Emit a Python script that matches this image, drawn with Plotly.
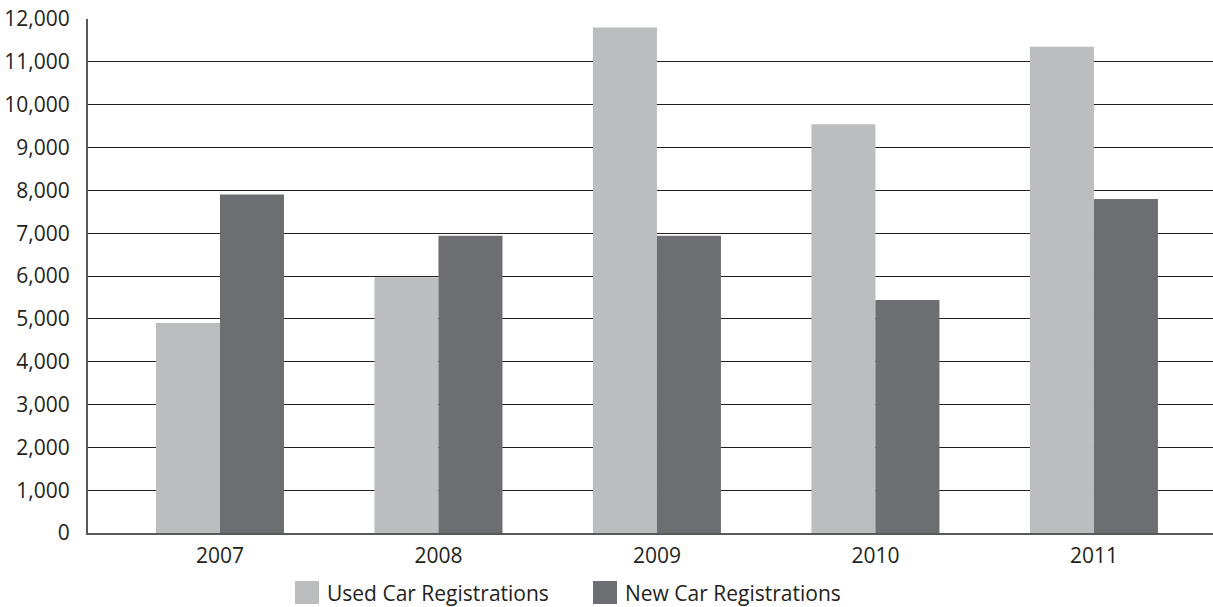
import plotly.graph_objects as go

years = ["2007", "2008", "2009", "2010", "2011"]
used = [4900, 5970, 11800, 9540, 11350]
new = [7900, 6940, 6940, 5440, 7800]
y_ticks = list(range(0, 12001, 1000))
y_labels = [f"{v:,}" for v in y_ticks]
series_names = ["Used Car Registrations", "New Car Registrations"]
colors = ["#bcbdbf", "#6d6e71"]

xpos = list(range(len(years)))
FONT = "Open Sans"
TXT = "#231f20"
FS = 21

fig = go.Figure()
fig.add_trace(go.Bar(x=xpos, y=used, name=series_names[0], marker_color=colors[0],
                     marker_line_width=0, showlegend=False))
fig.add_trace(go.Bar(x=xpos, y=new, name=series_names[1], marker_color=colors[1],
                     marker_line_width=0, showlegend=False))

# manual legend (paper coords)
W, H = 1213, 607
ml, mr, mt, mb = 88, 0, 19, 74
pw, ph = W - ml - mr, H - mt - mb
def px(x): return (x - ml) / pw
def py(y): return (H - mb - y) / ph

legend_items = [(295, series_names[0], colors[0]), (593, series_names[1], colors[1])]
shapes = []
annotations = []
for x0, name, c in legend_items:
    shapes.append(dict(type="rect", xref="paper", yref="paper",
                       x0=px(x0), x1=px(x0 + 24), y0=py(604), y1=py(581),
                       fillcolor=c, line_width=0))
    annotations.append(dict(xref="paper", yref="paper", x=px(x0 + 30), y=py(593),
                            text=name, showarrow=False, xanchor="left", yanchor="middle",
                            font=dict(family=FONT, size=FS, color=TXT)))

fig.update_layout(
    width=W, height=H,
    margin=dict(l=ml, r=mr, t=mt, b=mb),
    paper_bgcolor="white", plot_bgcolor="white",
    barmode="group", bargap=0.414, bargroupgap=0,
    font=dict(family=FONT, size=FS, color=TXT),
    shapes=shapes, annotations=annotations,
    xaxis=dict(tickmode="array", tickvals=xpos, ticktext=years,
               range=[-0.604, 4.545], showgrid=False, zeroline=False,
               showline=True, linecolor="#58595b", linewidth=2,
               ticks="", ticklabelstandoff=3,
               tickfont=dict(family=FONT, size=FS, color=TXT)),
    yaxis=dict(tickmode="array", tickvals=y_ticks, ticktext=y_labels,
               range=[0, 12000], showgrid=True, gridcolor="#231f20", gridwidth=1.4,
               zeroline=False, showline=True, linecolor="#58595b", linewidth=2,
               ticks="", ticklabelstandoff=12,
               tickfont=dict(family=FONT, size=FS, color=TXT)),
)

fig.write_html("out.html")
